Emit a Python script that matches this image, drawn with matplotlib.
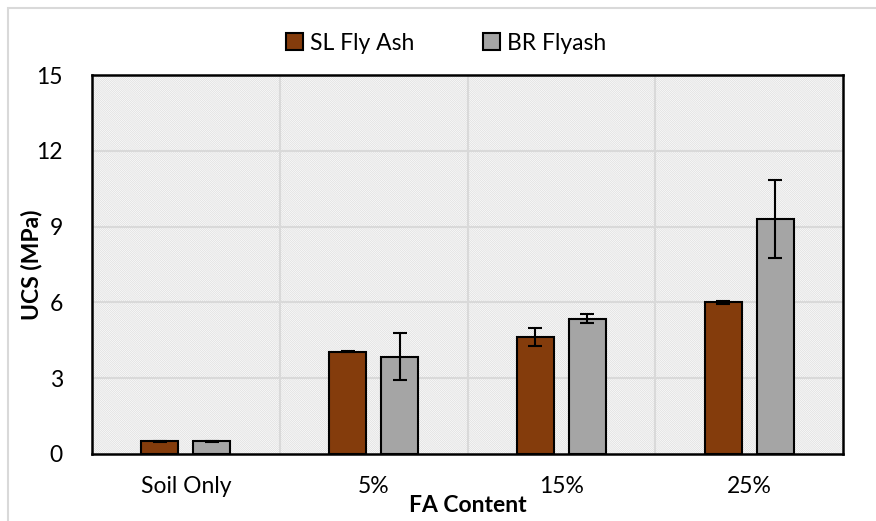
import matplotlib
matplotlib.use("Agg")
import matplotlib.pyplot as plt
import numpy as np
from matplotlib.patches import Rectangle

categories = ["Soil Only", "5%", "15%", "25%"]
sl_values = [0.50, 4.05, 4.63, 6.00]
sl_errors = [0.02, 0.02, 0.36, 0.05]
br_values = [0.50, 3.85, 5.36, 9.30]
br_errors = [0.02, 0.92, 0.18, 1.55]
series_names = ["SL Fly Ash", "BR Flyash"]
yticks = [0, 3, 6, 9, 12, 15]

plt.rcParams['font.family'] = ['Lato', 'DejaVu Sans']
plt.rcParams['hatch.linewidth'] = 0.6

FS = 16.5
W, H = 876, 521
fig = plt.figure(figsize=(W/100, H/100), dpi=100)
ax = fig.add_axes([92/W, 1-454/H, (843-92)/W, (454-75)/H])

# outer border
fig.patches.append(Rectangle((8/W, -0.1), 1.2, 1-8/H+0.1, transform=fig.transFigure,
                             fill=False, edgecolor='#d9d9d9', linewidth=1.5, zorder=-1))

# hatched background
ax.patch.set_facecolor('white')
bg = Rectangle((0, 0), 1, 1, transform=ax.transAxes, facecolor='white',
               edgecolor='#e0e0e0', hatch='\\' * 16, linewidth=0, zorder=0)
ax.add_patch(bg)

x = np.arange(len(categories))
bw = 0.197
off = 0.139
ax.bar(x - off, sl_values, bw, yerr=sl_errors, color='#843C0C', edgecolor='black',
       linewidth=1.5, label=series_names[0], zorder=3,
       error_kw=dict(ecolor='black', elinewidth=1.5, capsize=5, capthick=1.5))
ax.bar(x + off, br_values, bw, yerr=br_errors, color='#A5A5A5', edgecolor='black',
       linewidth=1.5, label=series_names[1], zorder=3,
       error_kw=dict(ecolor='black', elinewidth=1.5, capsize=5, capthick=1.5))

ax.set_xlim(-0.5, len(categories) - 0.5)
ax.set_ylim(0, 15)
ax.set_yticks(yticks)
ax.set_xticks(x)
ax.set_xticklabels(categories)
for yv in yticks[1:-1]:
    ax.axhline(yv, color='#d9d9d9', linewidth=1.5, zorder=1)
for xv in [0.5, 1.5, 2.5]:
    ax.axvline(xv, color='#d9d9d9', linewidth=1.5, zorder=1)

ax.tick_params(axis='both', length=0, labelsize=FS, colors='#000000')
ax.tick_params(axis='x', pad=16)
ax.tick_params(axis='y', pad=21)
for s in ax.spines.values():
    s.set_linewidth(1.8)
    s.set_color('black')
    s.set_zorder(5)

ax.set_ylabel("UCS (MPa)", fontsize=FS, fontweight='bold')
ax.yaxis.set_label_coords((42-92)/751, 0.5)
ax.set_xlabel("FA Content", fontsize=FS, fontweight='bold')
ax.xaxis.set_label_coords(0.5, (454-495)/379)

leg = fig.legend(loc='center', bbox_to_anchor=(446/W, 1-43/H), ncol=2, frameon=False,
                 fontsize=FS, handlelength=0.75, handleheight=0.75, handletextpad=0.3,
                 columnspacing=3.0)

fig.savefig("out.png", dpi=100)
